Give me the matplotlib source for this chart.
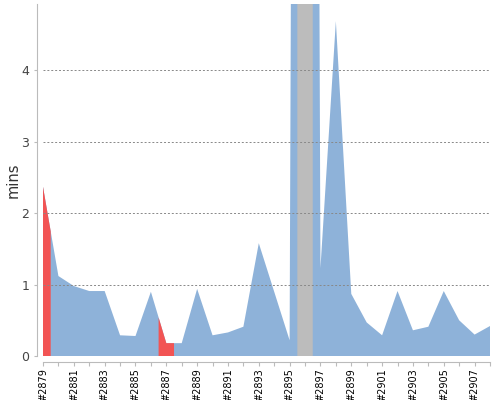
import numpy as np
import matplotlib
matplotlib.use("Agg")
import matplotlib.pyplot as plt

# build numbers, duration in minutes, result of each build
builds = list(range(2879, 2909))
durations = [2.37, 1.12, 0.98, 0.91, 0.91, 0.29, 0.28, 0.90, 0.18, 0.18,
             0.94, 0.29, 0.33, 0.41, 1.58, 0.90, 0.22, 60.0, 1.23, 4.69,
             0.87, 0.47, 0.29, 0.91, 0.36, 0.41, 0.91, 0.50, 0.30, 0.42]
results = ["failure", "success", "success", "success", "success", "success",
           "success", "success", "failure", "success", "success", "success",
           "success", "success", "success", "success", "success", "aborted",
           "success", "success", "success", "success", "success", "success",
           "success", "success", "success", "success", "success", "success"]

colors = {"success": "#8eb2d9", "failure": "#f25454", "aborted": "#bcbcbc"}

fig = plt.figure(figsize=(5, 4), dpi=100)
ax = fig.add_axes([43 / 500, 44 / 400, 447 / 500, 352 / 400])

n = len(builds)
v = np.array(durations)
x = np.arange(n)

# whole area in the success colour, then the other builds painted on top
ax.fill_between(x, 0, v, facecolor=colors["success"], linewidth=0)
for i in range(n):
    if results[i] == "success":
        continue
    xs, ys = [], []
    if i > 0:
        xs.append(i - 0.5)
        ys.append((v[i - 1] + v[i]) / 2)
    xs.append(i)
    ys.append(v[i])
    if i < n - 1:
        xs.append(i + 0.5)
        ys.append((v[i] + v[i + 1]) / 2)
    ax.fill_between(xs, 0, ys, facecolor=colors[results[i]], linewidth=0)

ax.set_xlim(0, n - 1)
ax.set_ylim(0, 4.93)

for y in [1, 2, 3, 4]:
    ax.axhline(y, color="#888888", linestyle=(0, (2, 2)), linewidth=0.7, zorder=3)

ax.set_xticks(range(n))
ax.set_xticklabels(["#%d" % b if i % 2 == 0 else "" for i, b in enumerate(builds)])
ax.set_yticks([0, 1, 2, 3, 4])
ax.tick_params(axis="y", labelsize=9, labelcolor="#444444", color="#bbbbbb", length=2, pad=4)
ax.tick_params(axis="x", labelsize=7, labelcolor="black", labelrotation=90,
               color="#bbbbbb", length=3, pad=2)

for s in ["top", "right"]:
    ax.spines[s].set_visible(False)
for s in ["left", "bottom"]:
    ax.spines[s].set_position(("outward", 4))
    ax.spines[s].set_color("#bbbbbb")

ax.set_ylabel("mins", fontsize=10.5, color="#333333", labelpad=0)

fig.savefig("out.png", dpi=100)
